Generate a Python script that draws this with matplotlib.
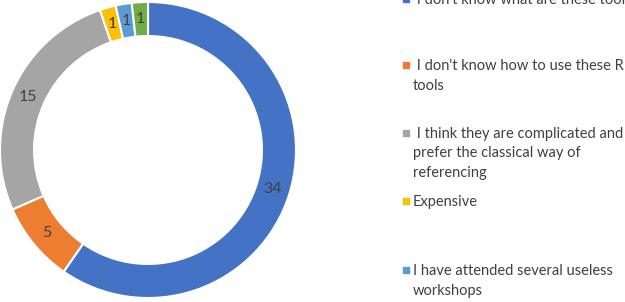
import matplotlib
matplotlib.use("Agg")
import matplotlib.pyplot as plt
import numpy as np

# survey answers (clockwise from 12 o'clock)
labels = [" I don't know what are these tools",
          " I don't know how to use these R\ntools",
          " I think they are complicated and\nprefer the classical way of\nreferencing",
          "Expensive",
          "I have attended several useless\nworkshops",
          "Other"]
counts = [34, 5, 15, 1, 1, 1]
colors = ["#4472C4", "#ED7D31", "#A5A5A5", "#FFC000", "#5B9BD5", "#70AD47"]

W, H = 625, 302
plt.rcParams['font.family'] = ['Lato', 'DejaVu Sans']
fig = plt.figure(figsize=(W / 100, H / 100), dpi=100)

# donut axes: pixel box x 0..296, y 2..298
ax = fig.add_axes([0 / W, (H - 298) / H, 296 / W, 296 / H])
ring = 0.23
wedges, _ = ax.pie(counts, colors=colors, startangle=90, counterclock=False,
                   radius=1.0, wedgeprops=dict(width=ring, edgecolor="white", linewidth=1.5))
ax.set_xlim(-1, 1)
ax.set_ylim(-1, 1)
ax.set_aspect("auto")
ax.axis("off")

# data labels in the middle of the ring
total = sum(counts)
start = 90.0
r_mid = 1 - ring / 2
for c in counts:
    sweep = c / total * 360
    mid = np.deg2rad(start - sweep / 2)
    ax.text(r_mid * np.cos(mid), r_mid * np.sin(mid), str(c), ha="center", va="center",
            fontsize=11.5, color="#404040")
    start -= sweep

# hand-placed legend, spread down the right side like the original
item_y = [-1, 65, 133, 201, 270, 338]
for lab, col, y in zip(labels, colors, item_y):
    fig.patches.append(plt.Rectangle((403 / W, 1 - (y + 3) / H), 6 / W, 6 / H,
                                     transform=fig.transFigure, color=col, figure=fig))
    fig.text(413 / W, 1 - (y - 6) / H, lab, ha="left", va="top", fontsize=10.5,
             color="#404040", linespacing=1.5)

fig.savefig("out.png", dpi=100)
